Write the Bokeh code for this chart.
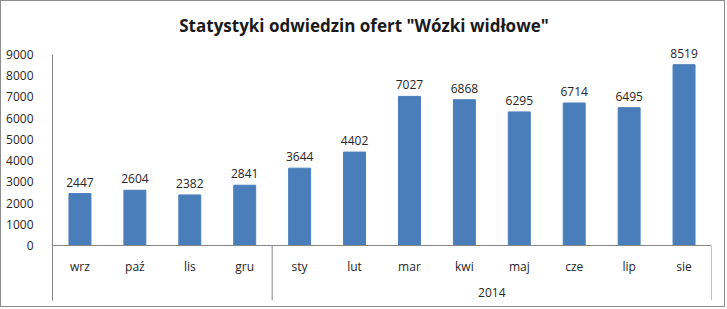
from bokeh.plotting import figure
from bokeh.models import (ColumnDataSource, FixedTicker, Range1d, Span)
from bokeh.core.properties import value
from bokeh.embed import file_html
from bokeh.resources import INLINE

title = 'Statystyki odwiedzin ofert "Wózki widłowe"'
months = ["wrz", "paź", "lis", "gru", "sty", "lut", "mar", "kwi", "maj", "cze", "lip", "sie"]
visits = [2447, 2604, 2382, 2841, 3644, 4402, 7027, 6868, 6295, 6714, 6495, 8519]
group_labels = ["", "2014"]
group_sizes = [4, 8]
y_ticks = list(range(0, 9001, 1000))

FONT = "Open Sans"
TXT = "#262626"
AX = "#868686"
BAR = "#4A7EBB"

# layout constants (pixels)
W, H = 725, 307
LEFT, RIGHT = 51, 15
ABOVE_H = 53      # title area above 9000
PLOT_H = 191      # height of the value area (0..9000)
BELOW_H = 55      # height of the category area under the axis
YMAX = 9000
ymin = -BELOW_H * YMAX / PLOT_H
ytop = YMAX + ABOVE_H * YMAX / PLOT_H

xs = [i + 0.5 for i in range(len(months))]
src = ColumnDataSource(dict(x=xs, v=visits, t=[str(v) for v in visits]))

p = figure(width=W, height=H, output_backend="svg", toolbar_location=None,
           x_range=Range1d(0, len(months)), y_range=Range1d(ymin, ytop),
           x_axis_location=None,
           min_border_left=LEFT, min_border_right=RIGHT, min_border_top=0,
           min_border_bottom=H - ABOVE_H - PLOT_H - BELOW_H)
p.title.visible = False
p.styles = {"border": "1px solid #8c8c8c"}
p.outline_line_color = None
p.grid.visible = False

p.vbar(x="x", top="v", bottom=0, width=0.4, source=src, color=BAR)

p.text(x="x", y="v", text="t", source=src, text_align="center",
       text_baseline="bottom", y_offset=-7, text_font=value(FONT),
       text_font_size="12px", text_color=TXT)

# horizontal category axis line at 0
p.add_layout(Span(location=0, dimension="width", line_color=AX, line_width=1))

# group boundaries
bounds = [0]
for s in group_sizes:
    bounds.append(bounds[-1] + s)
p.segment(x0=bounds, x1=bounds, y0=[0] * len(bounds), y1=[ymin] * len(bounds),
          line_color=AX, line_width=1)

# month labels
p.text(x=xs, y=[0] * len(xs), text=months, y_offset=21, text_align="center",
       text_baseline="middle", text_font=value(FONT), text_font_size="12px",
       text_color=TXT)

# group labels
centers = [(bounds[i] + bounds[i + 1]) / 2 for i in range(len(group_sizes))]
gx = [c for c, g in zip(centers, group_labels) if g]
gt = [g for g in group_labels if g]
p.text(x=gx, y=[0] * len(gx), text=gt, y_offset=47, text_align="center",
       text_baseline="middle", text_font=value(FONT), text_font_size="12px",
       text_color=TXT)

# title drawn at top of the frame, centred on the whole chart
frame_w = W - LEFT - RIGHT
title_shift = (W / 2) - (LEFT + frame_w / 2)
p.text(x=[len(months) / 2], y=[ytop], text=[title], x_offset=title_shift, y_offset=24,
       text_align="center", text_baseline="middle", text_font=value(FONT),
       text_font_size="17px", text_font_style="bold", text_color="#1a1a1a")

# y axis
ya = p.yaxis[0]
ya.ticker = FixedTicker(ticks=y_ticks)
ya.bounds = (ymin, YMAX)
ya.axis_line_color = AX
ya.major_tick_line_color = None
ya.minor_tick_line_color = None
ya.major_label_text_font = FONT
ya.major_label_text_font_size = "12px"
ya.major_label_text_color = TXT
ya.major_label_standoff = 13

open("out.html", "w").write(file_html(p, INLINE))
